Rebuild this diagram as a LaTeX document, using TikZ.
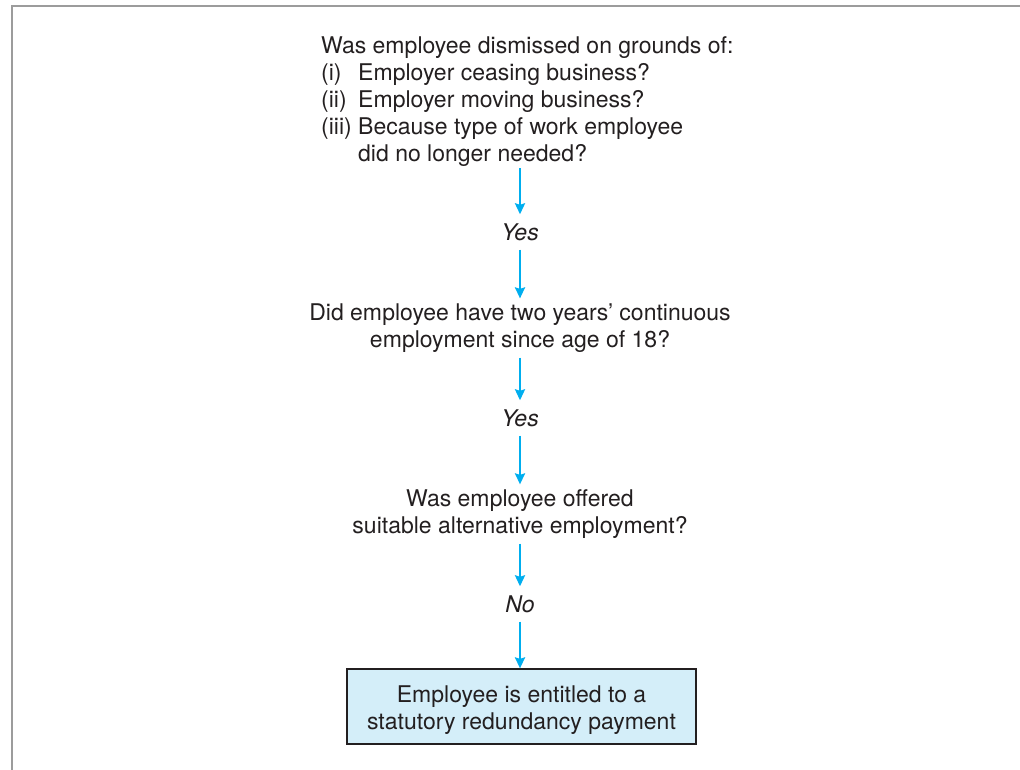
\documentclass[tikz,border=0pt]{standalone}
\usepackage{fontspec}
\setmainfont{TeX Gyre Heros}
\usetikzlibrary{arrows.meta}
\definecolor{flowblue}{HTML}{00AEEF}
\definecolor{boxfill}{HTML}{D4EEF9}
\definecolor{inkgrey}{HTML}{231F20}
\definecolor{framegrey}{HTML}{9C9C9C}
\tikzset{
  question/.style={align=center,inner xsep=0pt,inner ysep=5pt,text=inkgrey,font=\fontsize{23}{27}\selectfont},
  answer/.style={inner sep=0pt,minimum height=35pt,text=inkgrey,font=\fontsize{23}{27}\selectfont\itshape},
  result/.style={draw=inkgrey,line width=1.2pt,fill=boxfill,align=center,minimum width=349pt,minimum height=75pt,inner sep=0pt,text=inkgrey,font=\fontsize{23}{27}\selectfont},
  flow/.style={draw=flowblue,line width=2.8pt,-{Stealth[inset=1.5pt,width=10pt,length=11pt]}}
}
\newcommand{\itemtag}[1]{\makebox[37pt][l]{#1}}
\begin{document}
\begin{tikzpicture}[x=1pt,y=-1pt]
\path[use as bounding box] (0,0) rectangle (1020,769);
% open frame
\draw[framegrey,line width=2.5pt] (12,770) -- (12,6) -- (1021,6);
% questions
\node[question,align=left,anchor=north west,inner ysep=0pt] (grounds) at (321,36) {Was employee dismissed on grounds of:\\
\itemtag{(i)}Employer ceasing business?\\
\itemtag{(ii)}Employer moving business?\\
\itemtag{(iii)}Because type of work employee\\
\hspace*{37pt}did no longer needed?};
\node[answer] (yes1) at (520,232) {Yes};
\node[question] (service) at (520,328) {Did employee have two years’ continuous\\employment since age of 18?};
\node[answer] (yes2) at (520,418) {Yes};
\node[question] (offer) at (520,514) {Was employee offered\\suitable alternative employment?};
\node[answer] (no) at (520,604) {No};
\node[result] (payment) at (521.5,706.5) {\rule{0pt}{23pt}Employee is entitled to a\\statutory redundancy payment};
% connectors
\draw[flow] ([yshift=-2pt]yes1 |- grounds.south) -- (yes1);
\draw[flow] (yes1) -- (service);
\draw[flow] (service) -- (yes2);
\draw[flow] (yes2) -- (offer);
\draw[flow] (offer) -- (no);
\draw[flow] (no) -- (no |- payment.north);
\end{tikzpicture}
\end{document}
